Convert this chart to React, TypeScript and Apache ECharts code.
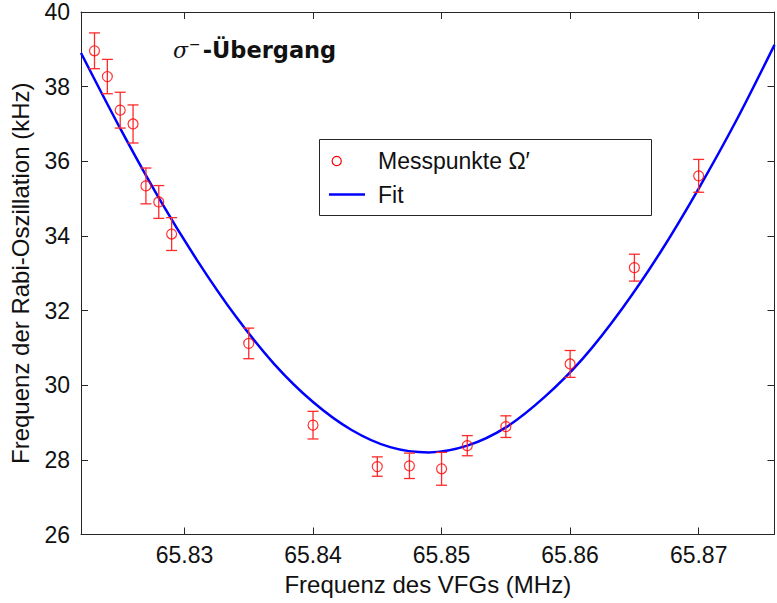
import React, { useEffect, useRef } from "react";
import * as echarts from "echarts";

// Measured points (VFG frequency in MHz, Rabi frequency in kHz, error in kHz)
const freqMHz = [
  65.823, 65.824, 65.825, 65.826, 65.827, 65.828, 65.829, 65.835, 65.84,
  65.845, 65.8475, 65.85, 65.852, 65.855, 65.86, 65.865, 65.87,
];
const rabiKHz = [
  38.96, 38.27, 37.37, 37.0, 35.34, 34.91, 34.05, 31.12, 28.93, 27.82, 27.84,
  27.76, 28.38, 28.89, 30.57, 33.15, 35.61,
];
const rabiErr = [
  0.48, 0.46, 0.48, 0.51, 0.48, 0.44, 0.44, 0.41, 0.37, 0.26, 0.34, 0.44,
  0.27, 0.29, 0.36, 0.36, 0.44,
];

// Fit curve
const fitFreq = [
  65.82195, 65.825, 65.828, 65.831, 65.834, 65.837, 65.84, 65.843, 65.846,
  65.849, 65.852, 65.855, 65.858, 65.861, 65.864, 65.867, 65.87, 65.873,
  65.8759,
];
const fitRabi = [
  38.9, 36.88, 35.02, 33.34, 31.84, 30.56, 29.55, 28.8, 28.34, 28.2, 28.38,
  28.87, 29.68, 30.72, 32.03, 33.55, 35.27, 37.14, 39.12,
];

const xMin = 65.82195;
const xMax = 65.8759;
const yMin = 26;
const yMax = 40;
const yStep = 2;

const legendLabels = ["Messpunkte \u03A9\u2032", "Fit"];
const titleParts = ["\u03C3", "\u2212", "-\u00DCbergang"];
const xName = "Frequenz des VFGs (MHz)";
const yName = "Frequenz der Rabi-Oszillation (kHz)";

const FONT = "Liberation Sans";
const AXIS_COLOR = "#262626";

export default function App() {
  const ref = useRef<HTMLDivElement>(null);

  useEffect(() => {
    if (!ref.current) return;
    const chart = echarts.init(ref.current, undefined, { renderer: "svg" });

    const pts = freqMHz.map((f, i) => [f, rabiKHz[i], rabiErr[i]]);
    const fit = fitFreq.map((f, i) => [f, fitRabi[i]]);

    const baseX = {
      type: "value" as const,
      min: xMin,
      max: xMax,
      splitLine: { show: false },
      axisLine: { show: true, lineStyle: { color: AXIS_COLOR, width: 1 } },
      axisTick: { show: true, inside: true, length: 7, lineStyle: { color: AXIS_COLOR } },
    };
    const baseY = {
      type: "value" as const,
      min: yMin,
      max: yMax,
      interval: yStep,
      splitLine: { show: false },
      axisLine: { show: true, lineStyle: { color: AXIS_COLOR, width: 1 } },
      axisTick: { show: true, inside: true, length: 7, lineStyle: { color: AXIS_COLOR } },
    };

    const option: any = {
      animation: false,
      backgroundColor: "#ffffff",
      textStyle: { fontFamily: FONT },
      grid: { left: 78.5, right: 2.5, top: 12, bottom: 68.5, containLabel: false },
      xAxis: [
        {
          ...baseX,
          position: "bottom",
          name: xName,
          nameLocation: "middle",
          nameGap: 38,
          nameTextStyle: { fontFamily: FONT, fontSize: 24, color: "#111" },
          axisLabel: {
            show: true,
            margin: 9,
            showMinLabel: false,
            showMaxLabel: false,
            fontFamily: FONT,
            fontSize: 23,
            color: "#111",
            formatter: (v: number) => v.toFixed(2),
          },
        },
        {
          ...baseX,
          position: "top",
          axisLabel: { show: false },
        },
      ],
      yAxis: [
        {
          ...baseY,
          position: "left",
          name: yName,
          nameLocation: "middle",
          nameRotate: 90,
          nameGap: 49,
          nameTextStyle: { fontFamily: FONT, fontSize: 24, color: "#111" },
          axisLabel: {
            show: true,
            margin: 11,
            fontFamily: FONT,
            fontSize: 23,
            color: "#111",
          },
        },
        {
          ...baseY,
          position: "right",
          axisLabel: { show: false },
        },
      ],
      series: [
        {
          name: legendLabels[1],
          type: "line",
          data: fit,
          smooth: 0.3,
          symbol: "none",
          lineStyle: { color: "#0000ff", width: 2.5 },
          z: 2,
        },
        {
          name: "errorbars",
          type: "custom",
          data: pts,
          encode: { x: 0, y: 1 },
          z: 3,
          renderItem: (_params: any, api: any) => {
            const x = api.value(0);
            const y = api.value(1);
            const e = api.value(2);
            const top = api.coord([x, y + e]);
            const bot = api.coord([x, y - e]);
            const w = 5.5;
            const style = { stroke: "#ff2a2a", lineWidth: 1.3 };
            return {
              type: "group",
              children: [
                { type: "line", shape: { x1: top[0], y1: top[1], x2: bot[0], y2: bot[1] }, style },
                { type: "line", shape: { x1: top[0] - w, y1: top[1], x2: top[0] + w, y2: top[1] }, style },
                { type: "line", shape: { x1: bot[0] - w, y1: bot[1], x2: bot[0] + w, y2: bot[1] }, style },
              ],
            };
          },
        },
        {
          name: legendLabels[0],
          type: "scatter",
          data: pts.map((p) => [p[0], p[1]]),
          symbol: "circle",
          symbolSize: 10,
          itemStyle: { color: "rgba(0,0,0,0)", borderColor: "#ff0000", borderWidth: 1.2 },
          z: 4,
        },
      ],
      graphic: [
        {
          type: "rect",
          shape: { x: 319.5, y: 139.5, width: 332, height: 76 },
          style: { fill: "#ffffff", stroke: AXIS_COLOR, lineWidth: 1 },
          z: 10,
        },
        {
          type: "circle",
          shape: { cx: 336.7, cy: 161, r: 4.6 },
          style: { fill: "none", stroke: "#ff0000", lineWidth: 1.2 },
          z: 11,
        },
        {
          type: "line",
          shape: { x1: 329, y1: 194.5, x2: 365, y2: 194.5 },
          style: { stroke: "#0000ff", lineWidth: 2.5 },
          z: 11,
        },
        {
          type: "text",
          x: 378,
          y: 161,
          style: {
            text: legendLabels[0],
            fontFamily: FONT,
            fontSize: 23,
            fill: "#111",
            verticalAlign: "middle",
          },
          z: 11,
        },
        {
          type: "text",
          x: 378,
          y: 195,
          style: {
            text: legendLabels[1],
            fontFamily: FONT,
            fontSize: 23,
            fill: "#111",
            verticalAlign: "middle",
          },
          z: 11,
        },
        {
          type: "text",
          x: 173,
          y: 50,
          style: {
            text: `{s|${titleParts[0]}}{m|${titleParts[1]}}{b|${titleParts[2]}}`,
            verticalAlign: "middle",
            rich: {
              s: { fontFamily: "DejaVu Serif", fontStyle: "italic", fontSize: 22, fill: "#111" },
              m: { fontFamily: "DejaVu Sans", fontSize: 14, fill: "#111", padding: [0, 2, 12, 1] },
              b: { fontFamily: "DejaVu Sans", fontWeight: "bold", fontSize: 22.5, fill: "#111" },
            },
          },
          z: 11,
        },
      ],
    };

    chart.setOption(option);
    return () => chart.dispose();
  }, []);

  return (
    <div
      ref={ref}
      style={{ position: "fixed", left: 0, top: 0, width: 777, height: 603, background: "#fff" }}
    />
  );
}
